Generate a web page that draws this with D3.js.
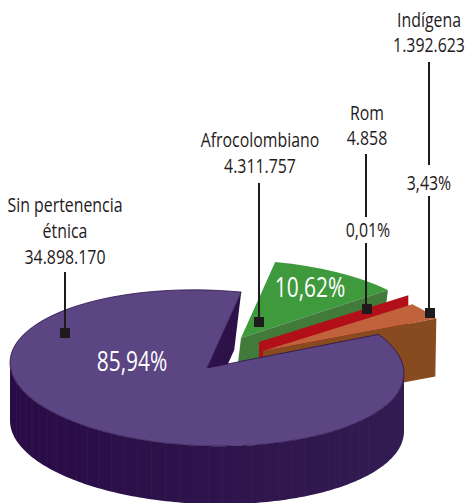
<!DOCTYPE html>
<html><head><meta charset="utf-8">
<script src="https://cdn.jsdelivr.net/npm/d3@7/dist/d3.min.js"></script>
<style>html,body{margin:0;padding:0;background:#fff}svg{display:block}text{font-family:"Open Sans",sans-serif}</style>
</head><body><svg id="c" width="467" height="503"></svg>
<script>
const categories = ["Afrocolombiano","Rom","Indígena","Sin pertenencia étnica"];
const population = [4311757,4858,1392623,34898170];
const populationLabels = ["4.311.757","4.858","1.392.623","34.898.170"];
const percentLabels = ["10,62%","0,01%","3,43%","85,94%"];
const topColors = ["#3f9a3d","#b30f18","#c0623c","#5c4583"];
const wallColors = ["#417a3a","#b30f18","#884a1f","#2b1045"];
const apexX = [241,259,263,207];
const apexY = [338,342,351,368];
const spinDeg = [0,1,1,0];
const radius = 197, radiusY = 78, tilt = 0.027, depth = 58;
const rad = d3.scaleLinear().domain([0,360]).range([0,2*Math.PI]);

const svg = d3.select("#c");
const defs = svg.append("defs");
const g = defs.append("linearGradient").attr("id","wall");
g.append("stop").attr("offset","0").attr("stop-color","#290b45");
g.append("stop").attr("offset","1").attr("stop-color","#321c52");

const pie = d3.pie().sort(null).value(d=>d).startAngle(rad(10)).endAngle(rad(370));
const arcs = pie(population).map((a,i)=>({...a,startAngle:a.startAngle+rad(spinDeg[i]),endAngle:a.endAngle+rad(spinDeg[i]),i}));
const arcGen = d3.arc().innerRadius(0).outerRadius(radius);
const ky = radiusY/radius;
const P = (i,t,dx=0,dy=0)=>[apexX[i]+radius*Math.sin(t)+dx, apexY[i]-radiusY*Math.cos(t)+tilt*radius*Math.sin(t)+dy];
const A = i=>[apexX[i],apexY[i]];
const poly = pts=>"M"+pts.map(p=>p.join(",")).join("L")+"Z";
const topFace = (a,stroke)=>svg.append("path").attr("d",arcGen(a))
  .attr("transform",`matrix(1,${tilt},0,${ky},${apexX[a.i]},${apexY[a.i]})`)
  .attr("fill",topColors[a.i]).attr("stroke",stroke||"none").attr("stroke-width",stroke?0.8:0).attr("vector-effect","non-scaling-stroke");
const radial = (a,t,dx,fill)=>{const r=P(a.i,t),c=A(a.i);
  svg.append("path").attr("d",poly([c,r,[r[0]+dx,r[1]+depth],[c[0]+dx,c[1]+depth]])).attr("fill",fill);};

// Afrocolombiano
topFace(arcs[0]); radial(arcs[0],arcs[0].endAngle,-7,wallColors[0]);
// Rom
radial(arcs[1],arcs[1].endAngle,0,wallColors[1]);
// Indígena
topFace(arcs[2]); radial(arcs[2],arcs[2].endAngle,-1,wallColors[2]);
// Sin pertenencia
const s = arcs[3];
radial(s,s.endAngle,-7,"#2d1249");
const ts = d3.range(rad(90), rad(270)+0.001, 0.02);
const outer = ts.map(t=>P(3,t)).concat(ts.slice().reverse().map(t=>P(3,t,0,depth)));
svg.append("path").attr("d",poly(outer)).attr("fill","url(#wall)");
d3.range(rad(125),rad(258),rad(4.2)).forEach(t=>{const a=P(3,t),b=P(3,t,0,depth);
  svg.append("line").attr("x1",a[0]).attr("y1",a[1]).attr("x2",b[0]).attr("y2",b[1]).attr("stroke","#4a3568").attr("stroke-width",0.5).attr("opacity",0.45);});
topFace(s,"#2d1249");

// leaders
const leaderX = [259,366,429,65];
const leaderSegs = [[[183,322]],[[154,217],[243,309]],[[62,165],[196,313]],[[272,333]]];
const squareY = [322,309,313,333];
const ink = "#1f1a1c";
categories.forEach((c,i)=>{
  leaderSegs[i].forEach(sg=>svg.append("line").attr("x1",leaderX[i]).attr("x2",leaderX[i]).attr("y1",sg[0]).attr("y2",sg[1]).attr("stroke",ink).attr("stroke-width",2));
  svg.append("rect").attr("x",leaderX[i]-5+(i===1?1:i===2?1:0)).attr("y",squareY[i]-5).attr("width",10).attr("height",10).attr("fill",ink);
});

// condensed look: horizontal squeeze of the installed humanist face
const squeeze = 0.775;
const label=(x,y,t,size,fill)=>svg.append("text").attr("transform",`translate(${x},${y}) scale(${squeeze},1)`)
  .attr("text-anchor","middle").attr("font-size",size).attr("fill",fill||ink).text(t);
const sz=20.5;
label(260,147,categories[0],sz); label(260,173,populationLabels[0],sz);
label(367,120,categories[1],sz); label(367,145,populationLabels[1],sz);
label(429,27,categories[2],sz); label(429,52,populationLabels[2],sz);
label(429,190,percentLabels[2],sz); label(368,237,percentLabels[1],sz);
label(65,212,"Sin pertenencia",sz); label(65,238,"étnica",sz); label(65,264,populationLabels[3],sz);
label(310,297,percentLabels[0],27,"#fff"); label(132,371,percentLabels[3],27,"#fff");
</script></body></html>
